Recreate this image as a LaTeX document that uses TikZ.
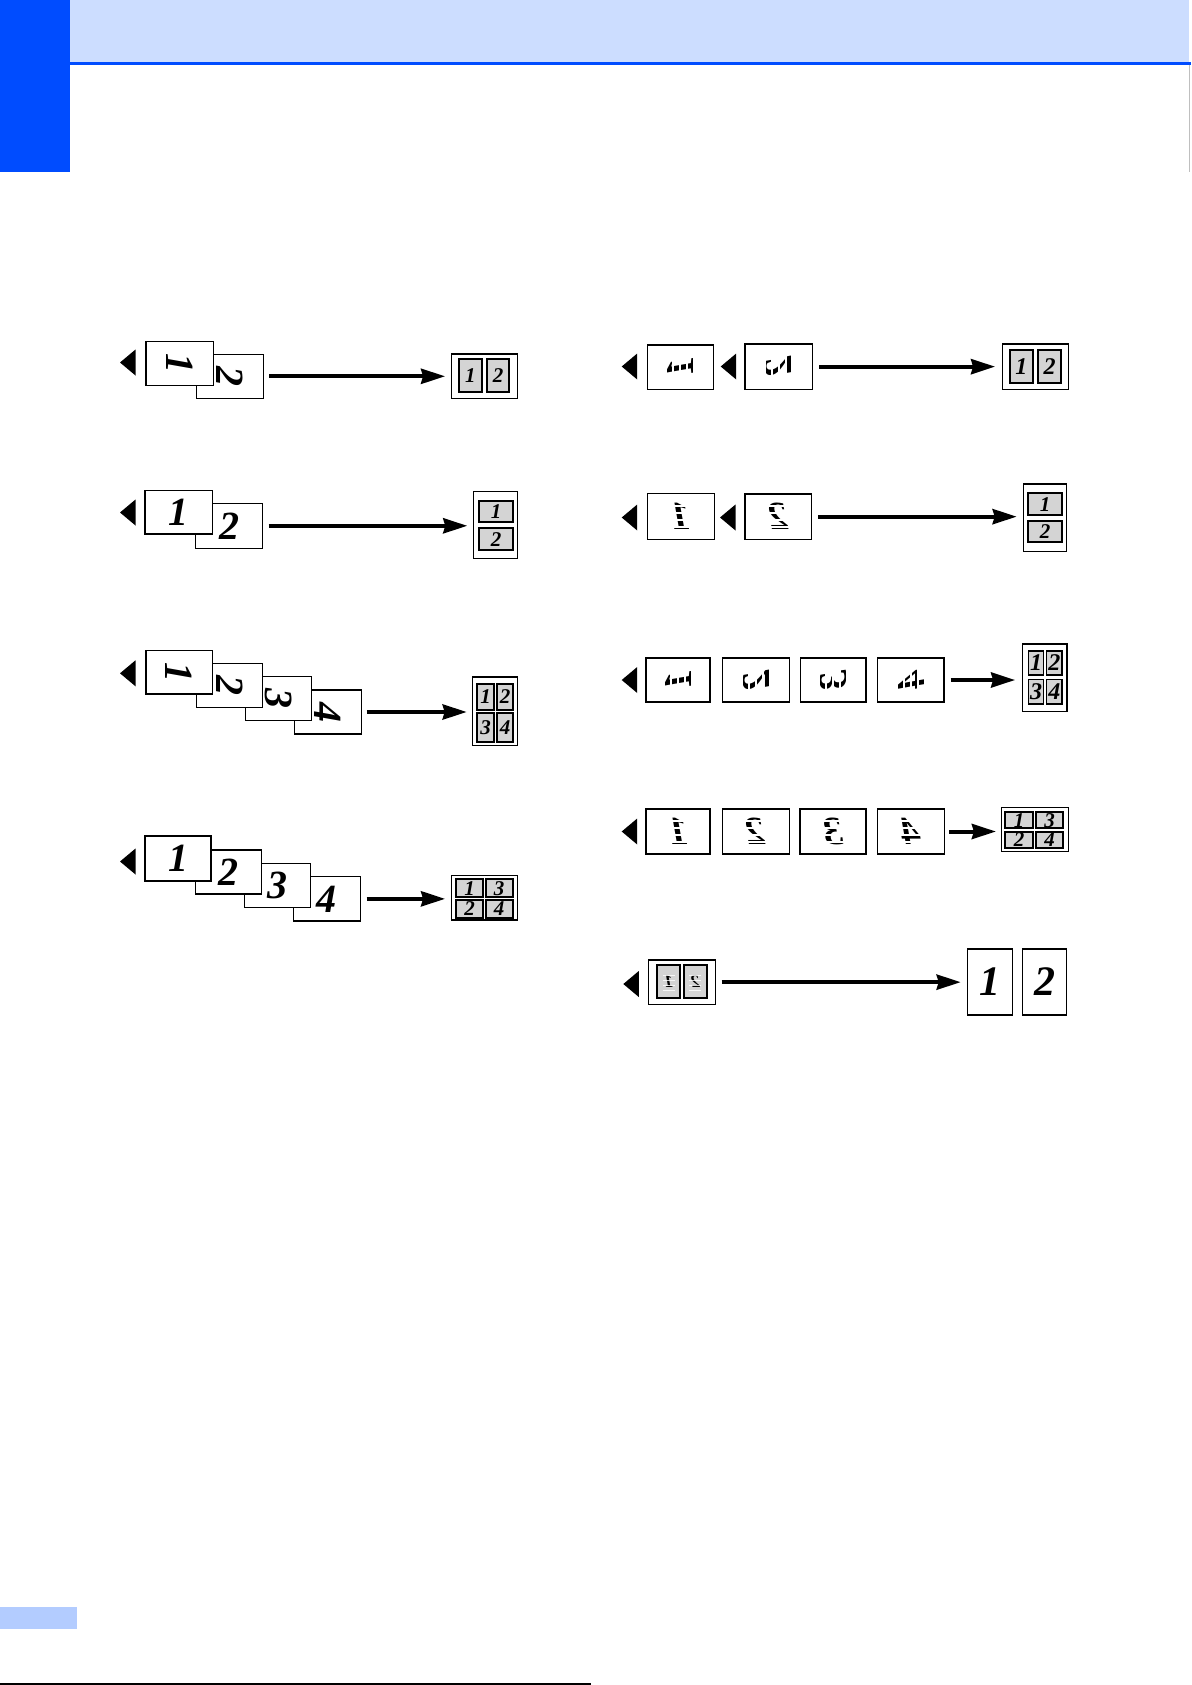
\documentclass[tikz,border=0pt]{standalone}
\usepackage{fontspec}
\setmainfont{Liberation Serif}
\usepackage{graphicx}
\usetikzlibrary{arrows.meta}
\definecolor{hdrblue}{RGB}{0,76,255}
\definecolor{hdrlight}{RGB}{204,221,255}
\definecolor{footlight}{RGB}{179,204,255}
\definecolor{cellgray}{RGB}{212,212,212}
\newcommand\bx[7][page]{\node[#1,minimum width={(#5-#3)*0.5pt},minimum height={(#6-#4)*0.5pt}] (#2) at ({(#3+#5)/2},{(#4+#6)/2}) {#7};}
\newcommand\feedtri[2]{\fill (#1,#2) -- (#1+15.5,#2-13) -- (#1+15.5,#2+13) -- cycle;}
\newcommand\rot[1]{\rotatebox{-90}{#1}}
\newcommand\mrot[1]{\scalebox{-1}[1]{\rotatebox{-90}{#1}}}
\newcommand\mir[1]{\scalebox{-1}[1]{#1}}
\newcommand\vstripes[1]{\foreach \d in {-10.5,-7,-3.5,0,3.5,7,10.5} \draw[white,line width=0.9pt] ([shift={(\d*1pt,-8pt)}]#1.center) -- ([shift={(\d*1pt,8pt)}]#1.center);}
\newcommand\hstripes[1]{\foreach \d in {-8.75,-5.25,-1.75,1.75,5.25,8.75} \draw[white,line width=0.9pt] ([shift={(-9pt,\d*1pt)}]#1.center) -- ([shift={(9pt,\d*1pt)}]#1.center);}
\newcommand\hstripesS[1]{\foreach \d in {-4.5,-2,0.5,3} \draw[white,line width=0.5pt,opacity=0.8] ([shift={(-3pt,\d*1pt)}]#1.center) -- ([shift={(3pt,\d*1pt)}]#1.center);}
\begin{document}
\begin{tikzpicture}[x=0.5pt,y=-0.5pt,
  page/.style={draw,fill=white,line width=0.6pt,inner sep=0pt,outer sep=0pt},
  outbox/.style={draw,fill=white,line width=0.7pt,inner sep=0pt,outer sep=0pt},
  cell/.style={draw,fill=cellgray,line width=0.9pt,inner sep=0pt,outer sep=0pt},
  dig/.style={font=\fontsize{20}{20}\selectfont\bfseries\itshape},
  bigdig/.style={font=\fontsize{21}{21}\selectfont\bfseries\itshape},
  sdig/.style={font=\fontsize{10.5}{10.5}\selectfont\bfseries\itshape},
  mdig/.style={font=\fontsize{12}{12}\selectfont\bfseries\itshape},
  tdig/.style={font=\fontsize{9}{9}\selectfont\bfseries\itshape},
  flow/.style={line width=2pt,-{Stealth[length=12pt,width=7.5pt,inset=1pt]}},
]
\useasboundingbox (0,0) rectangle (1191,1685);
% header and footer
\fill[hdrlight] (70,0) rectangle (1189,62);
\fill[hdrblue] (70,62) rectangle (1191,65);
\fill[hdrblue] (0,0) rectangle (70,172);
\draw[black!25,line width=0.3pt] (1189.5,65) -- (1189.5,172);
\fill[footlight] (0,1607) rectangle (77,1629);
\draw[line width=0.8pt] (0,1684) -- (591,1684);

% ---------- Left row 1 ----------
\feedtri{120}{362.5}
\bx[page,dig]{Lab}{196.3}{354.3}{263.3}{398.3}{\rot{2}}
\bx[page,dig]{Laa}{146}{341.7}{213.3}{385.3}{\rot{1}}
\bx[outbox]{Lao}{451.7}{354}{517.7}{398.3}{}
\bx[cell,sdig]{Lac1}{459}{359.3}{481.7}{392.3}{1}
\bx[cell,sdig]{Lac2}{487}{359.3}{509.3}{392.3}{2}
\draw[flow,shorten <=3pt,shorten >=3.3pt] (Lab.east) -- (Lab.east -| Lao.west);

% ---------- Left row 2 ----------
\feedtri{120}{512.5}
\bx[page,dig]{Lbb}{195.7}{503.3}{262.7}{548.3}{2}
\bx[page,dig]{Lba}{145}{490.7}{212.7}{534}{1}
\bx[outbox]{Lbo}{473.3}{491.7}{517.7}{558.3}{}
\bx[cell,sdig]{Lbc1}{479.3}{500.7}{512.7}{521.7}{1}
\bx[cell,sdig]{Lbc2}{479.3}{528.3}{512.7}{550}{2}
\draw[flow,shorten <=3pt,shorten >=3pt] (Lbb.east) -- (Lbb.east -| Lbo.west);

% ---------- Left row 3 ----------
\feedtri{120}{673.3}
\bx[page,dig]{Lcd}{294.3}{690}{361.3}{734}{\rot{4}}
\bx[page,dig]{Lcc}{245.3}{676.7}{311.3}{720.7}{\rot{3}}
\bx[page,dig]{Lcb}{196.3}{663.3}{262.7}{707.3}{\rot{2}}
\bx[page,dig]{Lca}{146}{650.7}{212.3}{694}{\rot{1}}
\bx[outbox]{Lco}{472.3}{677}{517.7}{745.7}{}
\bx[cell,sdig]{Lcc1}{476.7}{684}{494.3}{710}{1}
\bx[cell,sdig]{Lcc2}{496.7}{684}{513.3}{710}{2}
\bx[cell,sdig]{Lcc3}{476.7}{713.3}{494.3}{741.7}{3}
\bx[cell,sdig]{Lcc4}{496.7}{713.3}{513.3}{741.7}{4}
\draw[flow,shorten <=2.7pt,shorten >=2.8pt] (Lcd.east) -- (Lcd.east -| Lco.west);

% ---------- Left row 4 ----------
\feedtri{120}{861.5}
\bx[page,dig]{Ldd}{293.3}{876.7}{360.3}{921}{4}
\bx[page,dig]{Ldc}{244.3}{863.3}{310.7}{907.3}{3}
\bx[page,dig]{Ldb}{195.7}{850}{261.7}{894}{2}
\bx[page,dig]{Lda}{145}{836}{211}{881}{1}
\bx[outbox]{Ldo}{451.7}{875.7}{517.7}{920}{}
\bx[cell,sdig]{Ldc1}{456}{879}{483.3}{897.3}{1}
\bx[cell,sdig]{Ldc3}{485.7}{879}{512.7}{897.3}{3}
\bx[cell,sdig]{Ldc2}{456}{900}{483.3}{917.7}{2}
\bx[cell,sdig]{Ldc4}{485.7}{900}{512.7}{917.7}{4}
\draw[flow,shorten <=3.2pt,shorten >=3.3pt] (Ldd.east) -- (Ldd.east -| Ldo.west);

% ---------- Right row 1 ----------
\feedtri{621.7}{366.5}
\bx[page,dig]{Raa}{647.3}{345}{713.3}{389.3}{\mrot{1}}
\vstripes{Raa}
\feedtri{720.7}{366.5}
\bx[page,dig]{Rab}{745}{344}{812.3}{389.3}{\mrot{2}}
\vstripes{Rab}
\bx[outbox]{Rao}{1002.7}{344}{1068.3}{389.3}{}
\bx[cell,mdig]{Rac1}{1010}{350}{1032.7}{383.3}{1}
\bx[cell,mdig]{Rac2}{1038.3}{350}{1060.7}{383.3}{2}
\draw[flow,shorten <=3.5pt,shorten >=3.8pt] (Rab.east) -- (Rab.east -| Rao.west);

% ---------- Right row 2 ----------
\feedtri{621.7}{517.5}
\bx[page,dig]{Rba}{647.3}{493.3}{714.3}{539.3}{\mir{1}}
\hstripes{Rba}
\feedtri{720}{517.5}
\bx[page,dig]{Rbb}{745}{494}{811.7}{539.3}{\mir{2}}
\hstripes{Rbb}
\bx[outbox]{Rbo}{1023.3}{484}{1066.7}{551.7}{}
\bx[cell,sdig]{Rbc1}{1028.3}{493.3}{1061.7}{515}{1}
\bx[cell,sdig]{Rbc2}{1028.3}{520.7}{1061.7}{542.3}{2}
\draw[flow,shorten <=3.3pt,shorten >=3.3pt] (Rbb.east) -- (Rbb.east -| Rbo.west);

% ---------- Right row 3 ----------
\feedtri{621.7}{680}
\bx[page,dig]{Rca}{646}{658}{710}{702}{\mrot{1}}
\vstripes{Rca}
\bx[page,dig]{Rcb}{722.3}{658}{789.3}{702}{\mrot{2}}
\vstripes{Rcb}
\bx[page,dig]{Rcc}{800.7}{658}{866}{702}{\mrot{3}}
\vstripes{Rcc}
\bx[page,dig]{Rcd}{877.7}{658}{944}{702}{\mrot{4}}
\vstripes{Rcd}
\bx[outbox]{Rco}{1022.5}{644}{1067}{711.5}{}
\bx[cell,mdig]{Rcc1}{1028.5}{651}{1043.5}{675}{1}
\bx[cell,mdig]{Rcc2}{1046.5}{651}{1062}{675}{2}
\bx[cell,mdig]{Rcc3}{1028.5}{679.5}{1043.5}{704}{3}
\bx[cell,mdig]{Rcc4}{1046.5}{679.5}{1062}{704}{4}
\draw[flow,shorten <=3.3pt,shorten >=3.7pt] (Rcd.east) -- (Rcd.east -| Rco.west);

% ---------- Right row 4 ----------
\feedtri{621.7}{831.5}
\bx[page,dig]{Rda}{646}{809}{710}{854}{\mir{1}}
\hstripes{Rda}
\bx[page,dig]{Rdb}{722.3}{809}{789.3}{854}{\mir{2}}
\hstripes{Rdb}
\bx[page,dig]{Rdc}{800}{809}{866}{854}{\mir{3}}
\hstripes{Rdc}
\bx[page,dig]{Rdd}{877.3}{809}{944.3}{854}{\mir{4}}
\hstripes{Rdd}
\bx[outbox]{Rdo}{1001.7}{807.7}{1068.3}{851.7}{}
\bx[cell,sdig]{Rdc1}{1005}{812.3}{1033.3}{828.3}{1}
\bx[cell,sdig]{Rdc3}{1036}{812.3}{1063.3}{828.3}{3}
\bx[cell,sdig]{Rdc2}{1005}{831.7}{1033.3}{848.3}{2}
\bx[cell,sdig]{Rdc4}{1036}{831.7}{1063.3}{848.3}{4}
\draw[flow,shorten <=2.5pt,shorten >=2.9pt] (Rdd.east) -- (Rdd.east -| Rdo.west);

% ---------- Right row 5 ----------
\feedtri{623.3}{984}
\bx[outbox]{Res}{648.3}{960}{715.7}{1004.3}{}
\bx[cell,tdig]{Rec1}{657.3}{965}{680}{998.3}{\mir{1}}
\hstripesS{Rec1}
\bx[cell,tdig]{Rec2}{684}{965}{706.7}{998.3}{\mir{2}}
\hstripesS{Rec2}
\bx[page,bigdig]{Reo1}{967.7}{949}{1012.3}{1015}{1}
\bx[page,bigdig]{Reo2}{1022.3}{949}{1066.7}{1015}{2}
\draw[flow,shorten <=3pt,shorten >=3.5pt] (Res.east) -- (Res.east -| Reo1.west);
\end{tikzpicture}
\end{document}
